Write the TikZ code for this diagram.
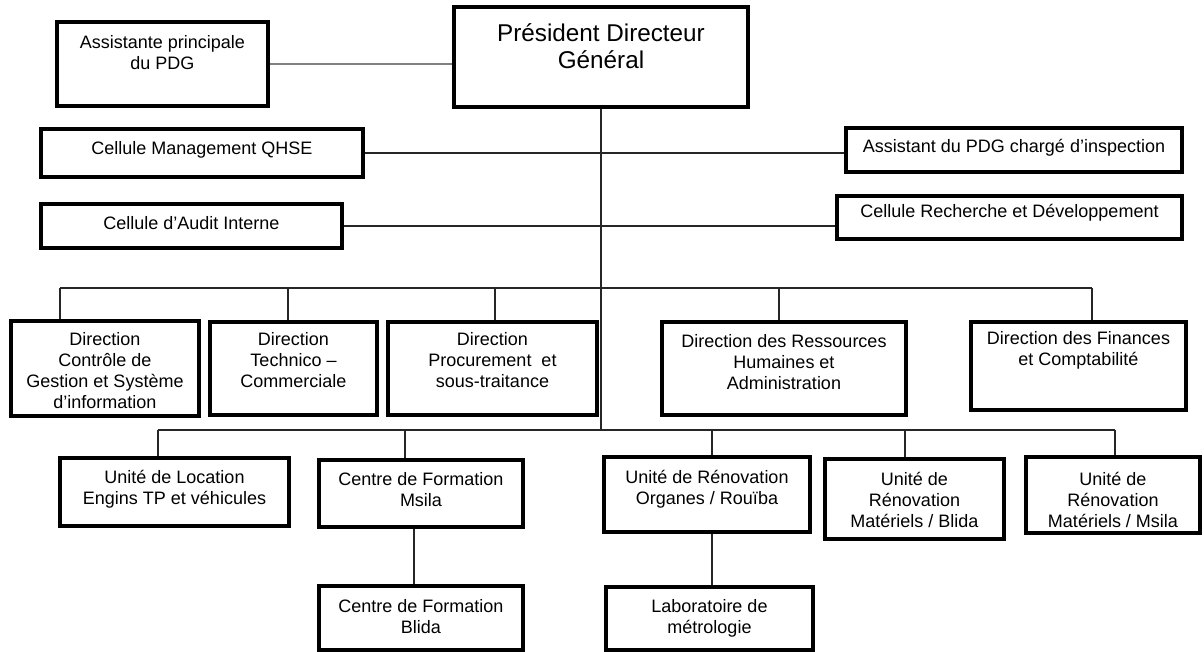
\documentclass[tikz,border=0pt]{standalone}
\usepackage{fontspec}
\setmainfont{Liberation Sans}
\usetikzlibrary{fit}

\tikzset{
  unit/.style={draw, line width=3.2pt, inner sep=0pt, fit={#1}},
  txt/.style={align=center, inner sep=0pt, font=\fontsize{13.5}{15.75}\selectfont},
  link/.style={line width=0.8pt, black!85},
}

\begin{document}
\begin{tikzpicture}[x=0.75pt,y=-0.75pt]
\useasboundingbox (0,0) rectangle (1204,651);

% boxes
\node[unit={(454,7) (748,107)}] (pdg) {};
\node[unit={(57,22) (268,106)}] (asst) {};
\node[unit={(41,129) (363,177)}] (qhse) {};
\node[unit={(846,128) (1182,172)}] (insp) {};
\node[unit={(41,204) (342,248)}] (audit) {};
\node[unit={(837,196) (1182,239)}] (rd) {};
\node[unit={(11,321) (199,416)}] (dcg) {};
\node[unit={(210,322) (377,415)}] (dtc) {};
\node[unit={(388,322) (597,415)}] (dps) {};
\node[unit={(662,322) (906,415)}] (drh) {};
\node[unit={(971,322) (1186,410)}] (dfc) {};
\node[unit={(60,458) (289,526)}] (ulo) {};
\node[unit={(319,460) (523,527)}] (cfm) {};
\node[unit={(319,586) (523,650)}] (cfb) {};
\node[unit={(604,457) (810,532)}] (uro) {};
\node[unit={(606,587) (813,650)}] (lab) {};
\node[unit={(825,459) (1004,539)}] (umb) {};
\node[unit={(1026,457) (1200,533)}] (ums) {};

% texts
\node[txt, font=\fontsize{18.2}{20.25}\selectfont] (pdg-t) at (601,46.5) {Président Directeur\\Général};
\node[txt] (asst-t) at (162.5,52.5) {Assistante principale\\du PDG};
\node[txt] (qhse-t) at (202,150) {Cellule Management QHSE};
\node[txt] (insp-t) at (1014,148) {Assistant du PDG chargé d’inspection};
\node[txt] (audit-t) at (191.5,223) {Cellule d’Audit Interne};
\node[txt] (rd-t) at (1009.5,213) {Cellule Recherche et Développement};
\node[txt] (dcg-t) at (105,370.5) {Direction\\Contrôle de\\Gestion et Système\\d’information};
\node[txt] (dtc-t) at (293.5,360.5) {Direction\\Technico –\\Commerciale};
\node[txt] (dps-t) at (492.5,360.5) {Direction\\Procurement\ \ et\\sous-traitance};
\node[txt] (drh-t) at (784,362.5) {Direction des Ressources\\Humaines et\\Administration};
\node[txt] (dfc-t) at (1078.5,350) {Direction des Finances\\et Comptabilité};
\node[txt] (ulo-t) at (174.5,489.5) {Unité de Location\\Engins TP et véhicules};
\node[txt] (cfm-t) at (421,489.5) {Centre de Formation\\Msila};
\node[txt] (cfb-t) at (421,616.5) {Centre de Formation\\Blida};
\node[txt] (uro-t) at (707,489) {Unité de Rénovation\\Organes / Rouïba};
\node[txt] (lab-t) at (709.5,618) {Laboratoire de\\métrologie};
\node[txt] (umb-t) at (914.5,500) {Unité de\\Rénovation\\Matériels / Blida};
\node[txt] (ums-t) at (1113,500) {Unité de\\Rénovation\\Matériels / Msila};

% links
\coordinate (dbus) at (0,288);
\coordinate (ubus) at (0,430);
\draw[link, black!50] (asst.east) -- (asst.east -| pdg.west);
\draw[link] (pdg.south) -- (pdg.south |- ubus);
\draw[link] (qhse.east) -- (qhse.east -| insp.west);
\draw[link] (audit.east) -- (audit.east -| rd.west);
\draw[link] (dbus -| 60,0) -- (dbus -| 1092,0);
\foreach \n/\x in {dcg/60, dtc/288, dps/495, drh/779, dfc/1092}
  \draw[link] (dbus -| \x,0) -- (\n.north -| \x,0);
\draw[link] (ubus -| 158,0) -- (ubus -| 1115,0);
\foreach \n/\x in {ulo/158, cfm/405, uro/712, umb/905, ums/1115}
  \draw[link] (ubus -| \x,0) -- (\n.north -| \x,0);
\draw[link] (cfm.south -| 414,0) -- (cfb.north -| 414,0);
\draw[link] (uro.south -| 712,0) -- (lab.north -| 712,0);
\end{tikzpicture}
\end{document}
